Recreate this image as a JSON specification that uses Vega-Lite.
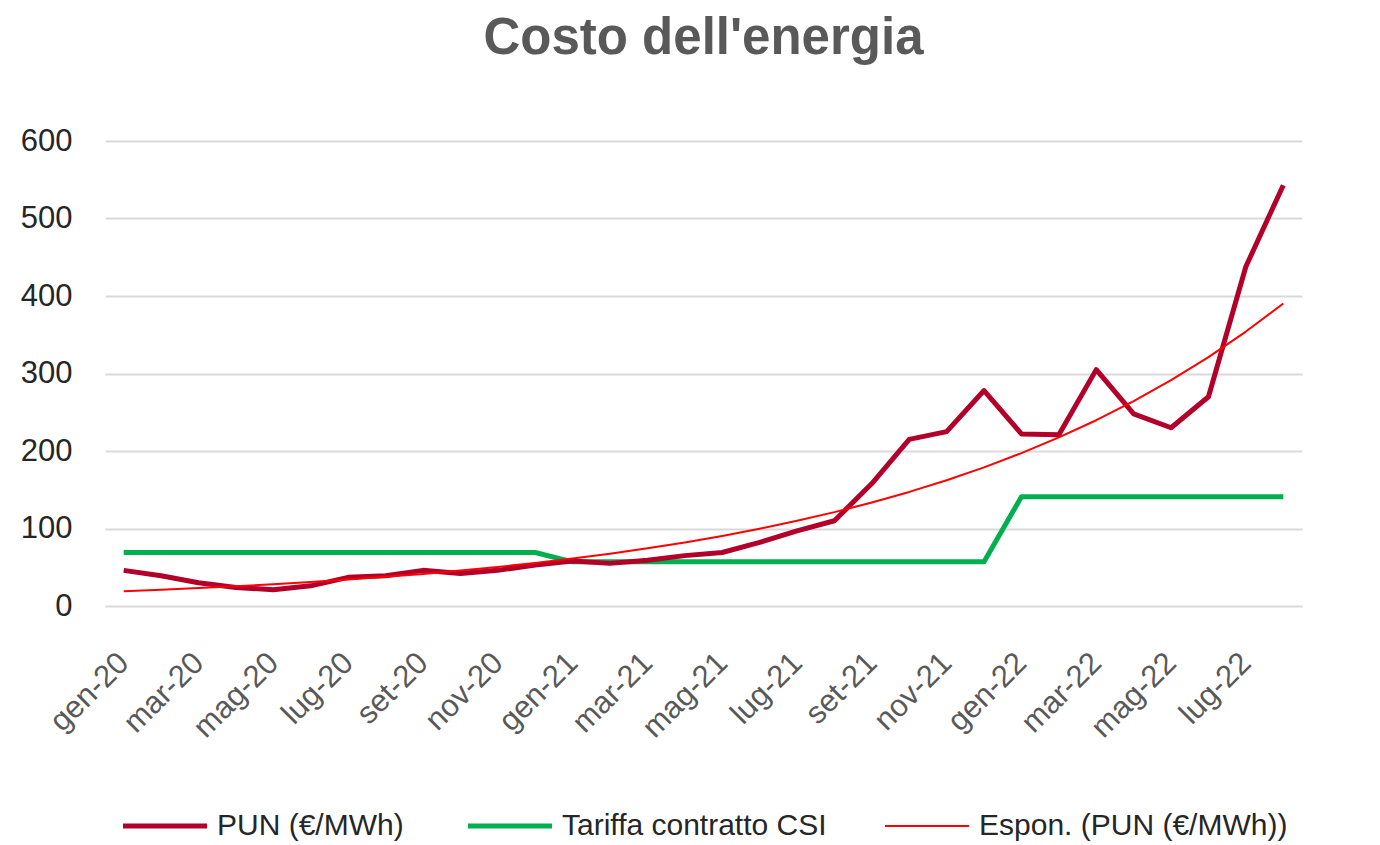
{
  "$schema": "https://vega.github.io/schema/vega-lite/v6.json",
  "autosize": {"type": "none"},
  "width": 1197,
  "height": 465,
  "padding": {"left": 105, "top": 141, "right": 78, "bottom": 239},
  "background": "#ffffff",
  "config": {
    "font": "Liberation Sans",
    "view": {"stroke": null}
  },
  "title": {
    "text": "Costo dell'energia",
    "fontSize": 51,
    "fontWeight": "bold",
    "color": "#595959",
    "font": "Liberation Sans",
    "anchor": "middle",
    "frame": "group",
    "offset": 60
  },
  "data": {
    "values": [
      {"mese": "gen-20", "serie": "PUN (€/MWh)", "valore": 46},
      {"mese": "feb-20", "serie": "PUN (€/MWh)", "valore": 39},
      {"mese": "mar-20", "serie": "PUN (€/MWh)", "valore": 30},
      {"mese": "apr-20", "serie": "PUN (€/MWh)", "valore": 24},
      {"mese": "mag-20", "serie": "PUN (€/MWh)", "valore": 21},
      {"mese": "giu-20", "serie": "PUN (€/MWh)", "valore": 26},
      {"mese": "lug-20", "serie": "PUN (€/MWh)", "valore": 37},
      {"mese": "ago-20", "serie": "PUN (€/MWh)", "valore": 39},
      {"mese": "set-20", "serie": "PUN (€/MWh)", "valore": 46},
      {"mese": "ott-20", "serie": "PUN (€/MWh)", "valore": 42},
      {"mese": "nov-20", "serie": "PUN (€/MWh)", "valore": 46},
      {"mese": "dic-20", "serie": "PUN (€/MWh)", "valore": 53},
      {"mese": "gen-21", "serie": "PUN (€/MWh)", "valore": 58},
      {"mese": "feb-21", "serie": "PUN (€/MWh)", "valore": 55},
      {"mese": "mar-21", "serie": "PUN (€/MWh)", "valore": 59},
      {"mese": "apr-21", "serie": "PUN (€/MWh)", "valore": 65},
      {"mese": "mag-21", "serie": "PUN (€/MWh)", "valore": 69},
      {"mese": "giu-21", "serie": "PUN (€/MWh)", "valore": 82},
      {"mese": "lug-21", "serie": "PUN (€/MWh)", "valore": 97},
      {"mese": "ago-21", "serie": "PUN (€/MWh)", "valore": 110},
      {"mese": "set-21", "serie": "PUN (€/MWh)", "valore": 158},
      {"mese": "ott-21", "serie": "PUN (€/MWh)", "valore": 215},
      {"mese": "nov-21", "serie": "PUN (€/MWh)", "valore": 225},
      {"mese": "dic-21", "serie": "PUN (€/MWh)", "valore": 278},
      {"mese": "gen-22", "serie": "PUN (€/MWh)", "valore": 222},
      {"mese": "feb-22", "serie": "PUN (€/MWh)", "valore": 221},
      {"mese": "mar-22", "serie": "PUN (€/MWh)", "valore": 305},
      {"mese": "apr-22", "serie": "PUN (€/MWh)", "valore": 248},
      {"mese": "mag-22", "serie": "PUN (€/MWh)", "valore": 230},
      {"mese": "giu-22", "serie": "PUN (€/MWh)", "valore": 270},
      {"mese": "lug-22", "serie": "PUN (€/MWh)", "valore": 438},
      {"mese": "ago-22", "serie": "PUN (€/MWh)", "valore": 543},

      {"mese": "gen-20", "serie": "Tariffa contratto CSI", "valore": 69},
      {"mese": "feb-20", "serie": "Tariffa contratto CSI", "valore": 69},
      {"mese": "mar-20", "serie": "Tariffa contratto CSI", "valore": 69},
      {"mese": "apr-20", "serie": "Tariffa contratto CSI", "valore": 69},
      {"mese": "mag-20", "serie": "Tariffa contratto CSI", "valore": 69},
      {"mese": "giu-20", "serie": "Tariffa contratto CSI", "valore": 69},
      {"mese": "lug-20", "serie": "Tariffa contratto CSI", "valore": 69},
      {"mese": "ago-20", "serie": "Tariffa contratto CSI", "valore": 69},
      {"mese": "set-20", "serie": "Tariffa contratto CSI", "valore": 69},
      {"mese": "ott-20", "serie": "Tariffa contratto CSI", "valore": 69},
      {"mese": "nov-20", "serie": "Tariffa contratto CSI", "valore": 69},
      {"mese": "dic-20", "serie": "Tariffa contratto CSI", "valore": 69},
      {"mese": "gen-21", "serie": "Tariffa contratto CSI", "valore": 57},
      {"mese": "feb-21", "serie": "Tariffa contratto CSI", "valore": 57},
      {"mese": "mar-21", "serie": "Tariffa contratto CSI", "valore": 57},
      {"mese": "apr-21", "serie": "Tariffa contratto CSI", "valore": 57},
      {"mese": "mag-21", "serie": "Tariffa contratto CSI", "valore": 57},
      {"mese": "giu-21", "serie": "Tariffa contratto CSI", "valore": 57},
      {"mese": "lug-21", "serie": "Tariffa contratto CSI", "valore": 57},
      {"mese": "ago-21", "serie": "Tariffa contratto CSI", "valore": 57},
      {"mese": "set-21", "serie": "Tariffa contratto CSI", "valore": 57},
      {"mese": "ott-21", "serie": "Tariffa contratto CSI", "valore": 57},
      {"mese": "nov-21", "serie": "Tariffa contratto CSI", "valore": 57},
      {"mese": "dic-21", "serie": "Tariffa contratto CSI", "valore": 57},
      {"mese": "gen-22", "serie": "Tariffa contratto CSI", "valore": 141},
      {"mese": "feb-22", "serie": "Tariffa contratto CSI", "valore": 141},
      {"mese": "mar-22", "serie": "Tariffa contratto CSI", "valore": 141},
      {"mese": "apr-22", "serie": "Tariffa contratto CSI", "valore": 141},
      {"mese": "mag-22", "serie": "Tariffa contratto CSI", "valore": 141},
      {"mese": "giu-22", "serie": "Tariffa contratto CSI", "valore": 141},
      {"mese": "lug-22", "serie": "Tariffa contratto CSI", "valore": 141},
      {"mese": "ago-22", "serie": "Tariffa contratto CSI", "valore": 141},

      {"mese": "gen-20", "serie": "Espon. (PUN (€/MWh))", "valore": 19.0},
      {"mese": "feb-20", "serie": "Espon. (PUN (€/MWh))", "valore": 21.0},
      {"mese": "mar-20", "serie": "Espon. (PUN (€/MWh))", "valore": 23.1},
      {"mese": "apr-20", "serie": "Espon. (PUN (€/MWh))", "valore": 25.5},
      {"mese": "mag-20", "serie": "Espon. (PUN (€/MWh))", "valore": 28.1},
      {"mese": "giu-20", "serie": "Espon. (PUN (€/MWh))", "valore": 30.9},
      {"mese": "lug-20", "serie": "Espon. (PUN (€/MWh))", "valore": 34.1},
      {"mese": "ago-20", "serie": "Espon. (PUN (€/MWh))", "valore": 37.6},
      {"mese": "set-20", "serie": "Espon. (PUN (€/MWh))", "valore": 41.4},
      {"mese": "ott-20", "serie": "Espon. (PUN (€/MWh))", "valore": 45.7},
      {"mese": "nov-20", "serie": "Espon. (PUN (€/MWh))", "valore": 50.4},
      {"mese": "dic-20", "serie": "Espon. (PUN (€/MWh))", "valore": 55.5},
      {"mese": "gen-21", "serie": "Espon. (PUN (€/MWh))", "valore": 61.2},
      {"mese": "feb-21", "serie": "Espon. (PUN (€/MWh))", "valore": 67.5},
      {"mese": "mar-21", "serie": "Espon. (PUN (€/MWh))", "valore": 74.4},
      {"mese": "apr-21", "serie": "Espon. (PUN (€/MWh))", "valore": 82.0},
      {"mese": "mag-21", "serie": "Espon. (PUN (€/MWh))", "valore": 90.4},
      {"mese": "giu-21", "serie": "Espon. (PUN (€/MWh))", "valore": 99.7},
      {"mese": "lug-21", "serie": "Espon. (PUN (€/MWh))", "valore": 109.9},
      {"mese": "ago-21", "serie": "Espon. (PUN (€/MWh))", "valore": 121.1},
      {"mese": "set-21", "serie": "Espon. (PUN (€/MWh))", "valore": 133.6},
      {"mese": "ott-21", "serie": "Espon. (PUN (€/MWh))", "valore": 147.2},
      {"mese": "nov-21", "serie": "Espon. (PUN (€/MWh))", "valore": 162.3},
      {"mese": "dic-21", "serie": "Espon. (PUN (€/MWh))", "valore": 178.9},
      {"mese": "gen-22", "serie": "Espon. (PUN (€/MWh))", "valore": 197.3},
      {"mese": "feb-22", "serie": "Espon. (PUN (€/MWh))", "valore": 217.5},
      {"mese": "mar-22", "serie": "Espon. (PUN (€/MWh))", "valore": 239.7},
      {"mese": "apr-22", "serie": "Espon. (PUN (€/MWh))", "valore": 264.3},
      {"mese": "mag-22", "serie": "Espon. (PUN (€/MWh))", "valore": 291.4},
      {"mese": "giu-22", "serie": "Espon. (PUN (€/MWh))", "valore": 321.2},
      {"mese": "lug-22", "serie": "Espon. (PUN (€/MWh))", "valore": 354.1},
      {"mese": "ago-22", "serie": "Espon. (PUN (€/MWh))", "valore": 390.4}
    ]
  },
  "encoding": {
    "x": {
      "field": "mese",
      "type": "ordinal",
      "sort": null,
      "scale": {"type": "point", "padding": 0.5},
      "axis": {
        "title": null,
        "values": ["gen-20", "mar-20", "mag-20", "lug-20", "set-20", "nov-20", "gen-21", "mar-21", "mag-21", "lug-21", "set-21", "nov-21", "gen-22", "mar-22", "mag-22", "lug-22"],
        "labelAngle": -45,
        "labelAlign": "right",
        "labelBaseline": "middle",
        "labelPadding": 52,
        "labelFontSize": 31,
        "labelColor": "#595959",
        "labelFont": "Liberation Sans",
        "ticks": false,
        "domain": false,
        "grid": false
      }
    },
    "y": {
      "field": "valore",
      "type": "quantitative",
      "scale": {"domain": [0, 600], "nice": false},
      "axis": {
        "title": null,
        "values": [0, 100, 200, 300, 400, 500, 600],
        "labelFontSize": 31,
        "labelColor": "#262626",
        "labelFont": "Liberation Sans",
        "labelPadding": 33,
        "ticks": false,
        "domain": false,
        "grid": true,
        "gridColor": "#d9d9d9",
        "gridWidth": 2
      }
    },
    "color": {
      "field": "serie",
      "type": "nominal",
      "sort": null,
      "scale": {
        "domain": ["PUN (€/MWh)", "Tariffa contratto CSI", "Espon. (PUN (€/MWh))"],
        "range": ["#b3002a", "#00b050", "#ff0000"]
      },
      "legend": {
        "title": null,
        "orient": "none",
        "direction": "horizontal",
        "legendX": 45,
        "legendY": 670,
        "padding": 0,
        "symbolType": "stroke",
        "symbolSize": 7056,
        "symbolStrokeWidth": 5,
        "labelFontSize": 30,
        "labelColor": "#262626",
        "labelFont": "Liberation Sans",
        "labelOffset": 37,
        "columnPadding": 54,
        "labelLimit": 600,
        "encode": {
          "symbols": {
            "update": {
              "strokeWidth": {"signal": "datum.value === 'Espon. (PUN (€/MWh))' ? 2 : 5"}
            }
          }
        }
      }
    }
  },
  "layer": [
    {
      "transform": [{"filter": "datum.serie === 'Tariffa contratto CSI'"}],
      "mark": {"type": "line", "strokeWidth": 5, "strokeJoin": "round"}
    },
    {
      "transform": [{"filter": "datum.serie === 'PUN (€/MWh)'"}],
      "mark": {"type": "line", "strokeWidth": 5, "strokeJoin": "round"}
    },
    {
      "transform": [{"filter": "datum.serie === 'Espon. (PUN (€/MWh))'"}],
      "mark": {"type": "line", "strokeWidth": 2, "strokeJoin": "round"}
    }
  ]
}
